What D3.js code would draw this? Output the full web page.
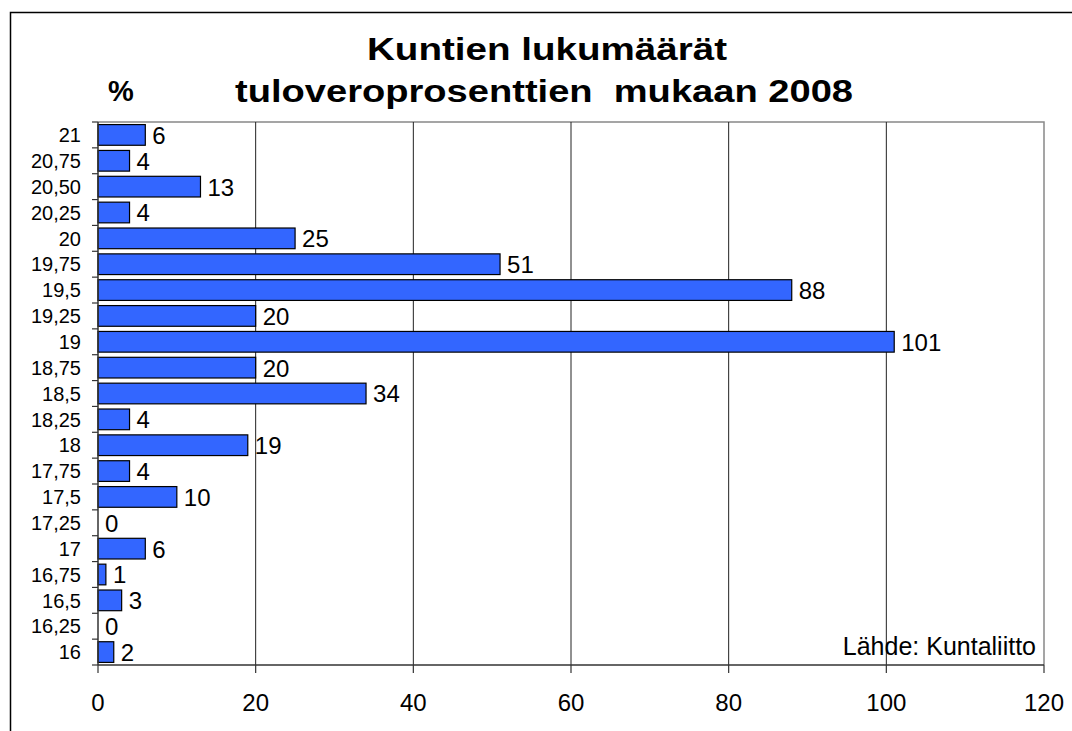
<!DOCTYPE html>
<html>
<head>
<meta charset="utf-8">
<script src="https://cdn.jsdelivr.net/npm/d3@7"></script>
<style>
	body{margin:0;background:#fff;}
	text{font-family:"Liberation Sans",Arial,sans-serif;fill:#000;}
</style>
</head>
<body>
<script>

// veroprosentit ylhäältä alas
var categories=["21","20,75","20,50","20,25","20","19,75","19,5","19,25","19","18,75","18,5","18,25","18","17,75","17,5","17,25","17","16,75","16,5","16,25","16"];
// kuntien lukumäärät
var counts=[6,4,13,4,25,51,88,20,101,20,34,4,19,4,10,0,6,1,3,0,2];
var xTicks=[0,20,40,60,80,100,120];

var titleLines=["Kuntien lukumäärät","tuloveroprosenttien  mukaan 2008"];
var source="Lähde: Kuntaliitto";

var width=1072,
	height=731;

var plot={left:98,right:1044,top:122,bottom:665};

var svg=d3.select("body")
	.append("svg")
	.attr("width",width)
	.attr("height",height);

// ulkoreunus
svg.append("rect")
	.attr("x",10.5)
	.attr("y",12.5)
	.attr("width",1200)
	.attr("height",900)
	.style("fill","none")
	.style("stroke","#000")
	.style("stroke-width",1.5);

var x=d3.scaleLinear()
	.domain([0,120])
	.range([plot.left,plot.right]);

var y=d3.scaleBand()
	.domain(categories)
	.range([plot.top,plot.bottom])
	.paddingInner(0.2)
	.paddingOuter(0.1);

var step=y.step();

// plot alueen reuna (ylä + oikea harmaa)
svg.append("path")
	.attr("d","M"+plot.left+","+plot.top+"H"+plot.right+"V"+plot.bottom)
	.style("fill","none")
	.style("stroke","#888")
	.style("stroke-width",1.5);

// pystyviivat
svg.append("g")
	.selectAll("line")
	.data(xTicks.filter(function(d){return d>0&&d<120;}))
	.enter().append("line")
	.attr("x1",function(d){return x(d);})
	.attr("x2",function(d){return x(d);})
	.attr("y1",plot.top)
	.attr("y2",plot.bottom)
	.style("stroke","#222")
	.style("stroke-width",1);

// palkit
svg.append("g")
	.selectAll("rect")
	.data(counts)
	.enter().append("rect")
	.attr("x",x(0))
	.attr("y",function(d,i){return y(categories[i]);})
	.attr("width",function(d){return x(d)-x(0);})
	.attr("height",y.bandwidth())
	.style("fill",function(d){return d>0?"#3366FF":"none";})
	.style("stroke",function(d){return d>0?"#000":"none";})
	.style("stroke-width",1.2);

// arvot
svg.append("g")
	.selectAll("text")
	.data(counts)
	.enter().append("text")
	.attr("x",function(d){return x(d)+7;})
	.attr("y",function(d,i){return y(categories[i])+y.bandwidth()/2;})
	.attr("dy","0.37em")
	.style("font-size","24px")
	.text(function(d){return d;});

// y akseli
var yAxis=svg.append("g");
yAxis.append("line")
	.attr("x1",plot.left).attr("x2",plot.left)
	.attr("y1",plot.top).attr("y2",plot.bottom)
	.style("stroke","#333").style("stroke-width",1.5);
yAxis.selectAll("line.tick")
	.data(d3.range(categories.length+1))
	.enter().append("line")
	.attr("class","tick")
	.attr("x1",plot.left-6).attr("x2",plot.left)
	.attr("y1",function(i){return plot.top+i*step;})
	.attr("y2",function(i){return plot.top+i*step;})
	.style("stroke","#333").style("stroke-width",1.2);
yAxis.selectAll("text")
	.data(categories)
	.enter().append("text")
	.attr("x",plot.left-17)
	.attr("y",function(d){return y(d)+y.bandwidth()/2;})
	.attr("dy","0.36em")
	.attr("text-anchor","end")
	.style("font-size","20px")
	.text(function(d){return d;});

// x akseli
var xAxis=svg.append("g");
xAxis.append("line")
	.attr("x1",plot.left).attr("x2",plot.right)
	.attr("y1",plot.bottom).attr("y2",plot.bottom)
	.style("stroke","#333").style("stroke-width",1.5);
xAxis.selectAll("line.tick")
	.data(xTicks)
	.enter().append("line")
	.attr("class","tick")
	.attr("x1",function(d){return x(d);})
	.attr("x2",function(d){return x(d);})
	.attr("y1",plot.bottom)
	.attr("y2",plot.bottom+8)
	.style("stroke","#333").style("stroke-width",1.2);
xAxis.selectAll("text")
	.data(xTicks)
	.enter().append("text")
	.attr("x",function(d){return x(d);})
	.attr("y",711)
	.attr("text-anchor","middle")
	.style("font-size","24px")
	.text(function(d){return d;});

// otsikko, venytetty leveyteen
svg.append("text")
	.attr("x",547).attr("y",60)
	.attr("text-anchor","middle")
	.attr("textLength",360)
	.attr("lengthAdjust","spacingAndGlyphs")
	.style("font-size","31px").style("font-weight","bold")
	.text(titleLines[0]);
svg.append("text")
	.attr("x",544).attr("y",102)
	.attr("text-anchor","middle")
	.attr("textLength",618)
	.attr("lengthAdjust","spacingAndGlyphs")
	.style("font-size","31px").style("font-weight","bold")
	.style("white-space","pre")
	.attr("xml:space","preserve")
	.text(titleLines[1]);

svg.append("text")
	.attr("x",121).attr("y",101)
	.attr("text-anchor","middle")
	.style("font-size","29px").style("font-weight","bold")
	.text("%");

// lähde
svg.append("text")
	.attr("x",1036).attr("y",655)
	.attr("text-anchor","end")
	.style("font-size","25px")
	.text(source);

</script>
</body>
</html>
